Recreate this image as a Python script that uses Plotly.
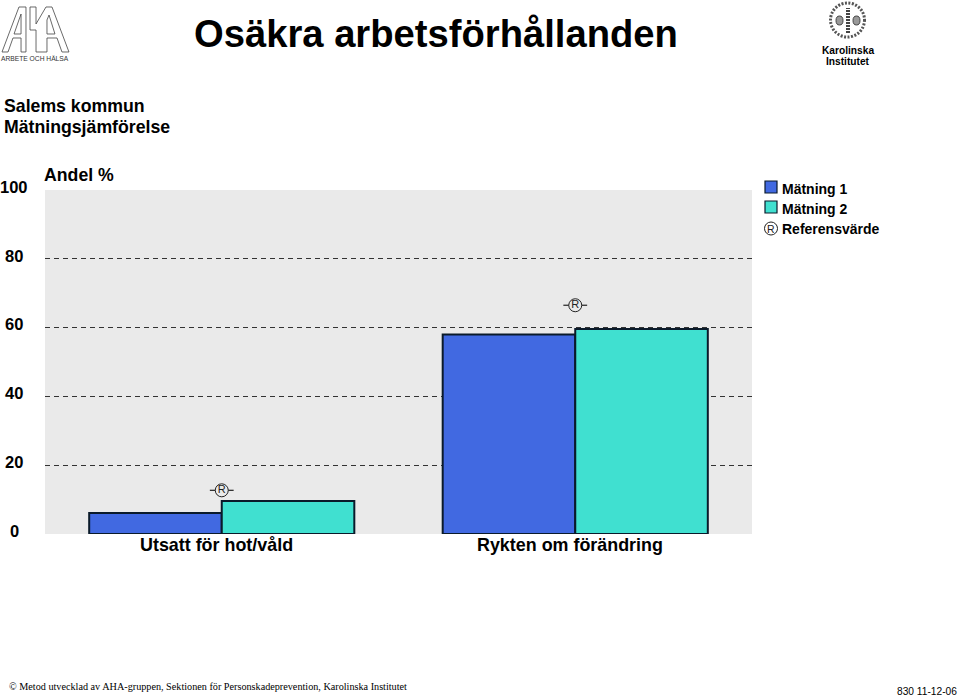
import plotly.graph_objects as go

# ===============================
# DATA
# ===============================
categories = ["Utsatt för hot/våld", "Rykten om förändring"]
matning_1 = [6.1, 58.0]
matning_2 = [9.6, 59.6]
referens = [12.7, 66.5]
tick_values = [0, 20, 40, 60, 80, 100]
grid_values = [20, 40, 60, 80]

BLUE = "#4169E1"
TEAL = "#40E0D0"
EDGE = "#0A1A2A"
SANS = "Liberation Sans"
SERIF = "Liberation Serif"
W, H = 960, 697
L, R, T, B = 45, 752, 190, 534


# paper coordinates run over the plot area, so convert from page pixels
def px(x):
    return (x - L) / (R - L)


def py(y):
    return (B - y) / (B - T)


def page_path(points):
    # closed outline in page pixels -> paper coordinates
    return "M " + " L ".join(f"{px(x):.4f},{py(y):.4f}" for x, y in points) + " Z"


def page_shape(**kw):
    return dict(xref="paper", yref="paper", **kw)


def page_text(x, y, text, size, family=SANS, anchor="left", color="black"):
    return dict(
        xref="paper", yref="paper", x=px(x), y=py(y), text=text, showarrow=False,
        xanchor=anchor, yanchor="middle", align=anchor, borderpad=0,
        font=dict(family=family, size=size, color=color),
    )


fig = go.Figure()
fig.add_bar(x=categories, y=matning_1, name="Mätning 1",
            marker=dict(color=BLUE, line=dict(color=EDGE, width=2)))
fig.add_bar(x=categories, y=matning_2, name="Mätning 2",
            marker=dict(color=TEAL, line=dict(color=EDGE, width=2)))

# reference marker: whisker, then circled R on top
fig.add_scatter(x=categories, y=referens, mode="markers", name="Referensvärde whisker",
                marker=dict(symbol="line-ew-open", size=17, color="#222222",
                            line=dict(color="#222222", width=1.2)),
                hoverinfo="skip")
fig.add_scatter(x=categories, y=referens, mode="markers+text", name="Referensvärde",
                text=["R", "R"], textposition="middle center",
                textfont=dict(family=SANS, size=11, color="#222222"),
                marker=dict(symbol="circle", size=13, color="#EAEAEA", line=dict(color="#222222", width=1)))

annotations = [
    page_text(193, 33, "<b>Osäkra arbetsförhållanden</b>", 38.2),
    page_text(2.5, 106, "<b>Salems kommun</b>", 17.7),
    page_text(2.5, 127, "<b>Mätningsjämförelse</b>", 17.7),
    page_text(42.5, 175, "<b>Andel %</b>", 17.7),
    page_text(781, 189, "<b>Mätning 1</b>", 14),
    page_text(781, 209, "<b>Mätning 2</b>", 14),
    page_text(781, 229, "<b>Referensvärde</b>", 14),
    page_text(771, 228.5, "R", 10.5, anchor="center", color="#222222"),
    page_text(8, 686, "© Metod utvecklad av AHA-gruppen, Sektionen för Personskadeprevention, Karolinska Institutet", 10.2, family=SERIF),
    page_text(958, 691, "830 11-12-06", 10.2, anchor="right"),
    page_text(35, 58, "ARBETE OCH HÄLSA", 6.7, anchor="center", color="#333333"),
    page_text(847.5, 50.5, "<b>Karolinska</b>", 10.2, anchor="center"),
    page_text(847.5, 61.5, "<b>Institutet</b>", 10.2, anchor="center"),
]
# y tick labels sit slightly above their gridlines, centred in the left margin
for v in tick_values:
    annotations.append(dict(xref="paper", yref="y", x=px(14), y=v, text=f"<b>{v}</b>", showarrow=False,
                            xanchor="center", yanchor="middle", yshift=3.2,
                            font=dict(family=SANS, size=16.5, color="black")))
# category labels sit a little left of the bar groups
for c in categories:
    annotations.append(dict(xref="x", yref="paper", x=c, y=py(545), text=f"<b>{c}</b>", showarrow=False,
                            xanchor="center", yanchor="middle", xshift=-5.5,
                            font=dict(family=SANS, size=17.9, color="black")))

shapes = [
    page_shape(type="rect", x0=px(765), x1=px(777), y0=py(193), y1=py(181),
               fillcolor=BLUE, line=dict(color=EDGE, width=1.2)),
    page_shape(type="rect", x0=px(765), x1=px(777), y0=py(213), y1=py(201),
               fillcolor=TEAL, line=dict(color=EDGE, width=1.2)),
    page_shape(type="circle", x0=px(764.5), x1=px(777.5), y0=py(235), y1=py(222),
               fillcolor="white", line=dict(color="#222222", width=1)),
]

# AHA logo outline
aha_outlines = [
    [(2, 52), (19, 7), (26, 7), (26, 52), (21, 52), (21, 38), (13, 38), (8, 52)],
    [(14, 34), (21, 34), (21, 14)],
    [(30, 7), (36, 7), (36, 24), (46, 7), (52, 7), (69, 52), (62, 52), (57, 38), (47, 38), (47, 52),
     (36, 52), (36, 30), (30, 30)],
    [(47, 34), (55, 34), (49, 15), (47, 20)],
]
for outline in aha_outlines:
    shapes.append(page_shape(type="path", path=page_path(outline), line=dict(color="#444444", width=0.8)))

# KI seal, dotted ring with a small emblem
seal_cx, seal_cy, seal_r = 847.5, 20, 17
shapes.append(page_shape(type="circle", x0=px(seal_cx - seal_r), x1=px(seal_cx + seal_r),
                         y0=py(seal_cy + seal_r), y1=py(seal_cy - seal_r),
                         line=dict(color="#555555", width=3, dash="2px,1.5px")))
shapes.append(page_shape(type="line", x0=px(848), x1=px(848), y0=py(33), y1=py(8),
                         line=dict(color="#444444", width=4, dash="2px,1px")))
for dx in (-8, 9):
    shapes.append(page_shape(type="circle", x0=px(seal_cx + dx - 3.5), x1=px(seal_cx + dx + 3.5),
                             y0=py(25), y1=py(16), fillcolor="#999999",
                             line=dict(color="#444444", width=1)))

fig.update_layout(
    width=W, height=H,
    margin=dict(l=L, r=W - R, t=T, b=H - B, pad=0),
    paper_bgcolor="white",
    plot_bgcolor="#EAEAEA",
    barmode="group",
    bargap=0.25,
    bargroupgap=0,
    showlegend=False,
    annotations=annotations,
    shapes=shapes,
    font=dict(family=SANS, color="black"),
    xaxis=dict(showgrid=False, showline=False, ticks="", zeroline=False, showticklabels=False),
    yaxis=dict(range=[0, 100], tickmode="array", tickvals=grid_values, showticklabels=False,
               ticks="", showline=False, zeroline=False, showgrid=True,
               gridcolor="#333333", gridwidth=1, griddash="5px,4px"),
)

fig.write_html("out.html", post_script="document.body.style.margin='0';",
               config=dict(displayModeBar=False))
